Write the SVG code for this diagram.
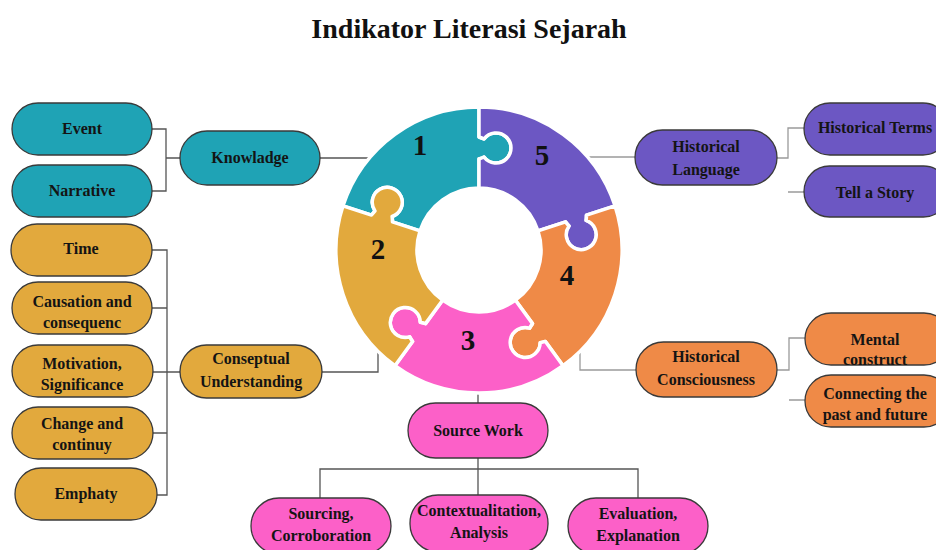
<svg xmlns="http://www.w3.org/2000/svg" xmlns:xlink="http://www.w3.org/1999/xlink" width="936" height="550" viewBox="0 0 936 550">
<style>
.t{font-family:"Liberation Serif","Times New Roman",serif;font-weight:bold;font-size:16px;fill:#141414;text-anchor:middle}
.title{font-family:"Liberation Serif","Times New Roman",serif;font-weight:bold;font-size:28px;fill:#111;text-anchor:middle}
.num{font-family:"Liberation Serif","Times New Roman",serif;font-weight:bold;font-size:29px;fill:#111;text-anchor:middle}
.n{stroke:#3a3a3a;stroke-width:1.3}
.teal{fill:#1FA3B5}.gold{fill:#E2A93D}.purple{fill:#6C57C3}.orange{fill:#EF8A47}.pink{fill:#FC60C8}
.cd{fill:none;stroke:#555;stroke-width:1.3}
.cl{fill:none;stroke:#9a9a9a;stroke-width:1.3}
.piece{stroke:#fff;stroke-width:3.5;stroke-linejoin:round}
</style>
<defs>
<path id="piece" d="M -136.00 -44.19 A 143 143 0 0 1 0 -143 L 0 -113 Q 3 -112 5 -111 A 15 15 0 1 1 5 -93 Q 3 -92 0 -91 L 0 -62 A 62 62 0 0 0 -58.97 -19.16 L -86.55 -28.12 Q -86.57 -31.28 -86.90 -33.49 A 15 15 0 1 0 -104.02 -39.06 Q -105.59 -37.46 -107.47 -34.92 Z"/>
</defs>
<rect width="936" height="550" fill="#fff"/>
<text class="title" x="469" y="38">Indikator Literasi Sejarah</text>

<g id="connectors">
<path class="cd" d="M152 129 H166 V191 H152 M166 158 H180 M320 158 H380"/>
<path class="cd" d="M152 250 H167 V495 H157 M152 308 H167 M152 372 H180 M152 433 H167 M322 372 H378 V340"/>
<path class="cl" d="M580 157 H635 M777 158 H788 V128 H805 M788 192 H805"/>
<path class="cl" d="M580 330 V370 H636 M777 370 H789 V338 H805 M789 400 H805"/>
<path class="cd" d="M478 385 V403 M478 458 V469 M320 500 V469 H638 V500 M478 469 V497"/>
</g>

<g id="ring">
<g id="piece1"><use xlink:href="#piece" class="piece teal" transform="translate(479,250)"/><text class="num" x="420" y="155">1</text></g>
<g id="piece5"><use xlink:href="#piece" class="piece purple" transform="translate(479,250) rotate(72)"/><text class="num" x="542" y="165">5</text></g>
<g id="piece4"><use xlink:href="#piece" class="piece orange" transform="translate(479,250) rotate(144)"/><text class="num" x="567" y="285">4</text></g>
<g id="piece3"><use xlink:href="#piece" class="piece pink" transform="translate(479,250) rotate(216)"/><text class="num" x="468" y="350">3</text></g>
<g id="piece2"><use xlink:href="#piece" class="piece gold" transform="translate(479,250) rotate(288)"/><text class="num" x="378" y="259">2</text></g>
</g>

<g id="event"><rect class="n teal" x="12" y="103" width="140" height="52" rx="26"/><text class="t" x="82" y="134">Event</text></g>
<g id="narrative"><rect class="n teal" x="12" y="165" width="140" height="52" rx="26"/><text class="t" x="82" y="196">Narrative</text></g>
<g id="knowladge"><rect class="n teal" x="180" y="131" width="140" height="54" rx="27"/><text class="t" x="250" y="163">Knowladge</text></g>

<g id="time"><rect class="n gold" x="11" y="224" width="141" height="52" rx="26"/><text class="t" x="81" y="254">Time</text></g>
<g id="causation"><rect class="n gold" x="12" y="282" width="140" height="52" rx="26"/><text class="t" x="82" y="307">Causation and</text><text class="t" x="82" y="328">consequenc</text></g>
<g id="motivation"><rect class="n gold" x="12" y="345" width="141" height="52" rx="26"/><text class="t" x="82" y="369">Motivation,</text><text class="t" x="82" y="390">Significance</text></g>
<g id="change"><rect class="n gold" x="12" y="407" width="141" height="52" rx="26"/><text class="t" x="82" y="429">Change and</text><text class="t" x="82" y="450">continuy</text></g>
<g id="emphaty"><rect class="n gold" x="15" y="468" width="142" height="52" rx="26"/><text class="t" x="86" y="499">Emphaty</text></g>
<g id="conseptual"><rect class="n gold" x="180" y="345" width="142" height="53" rx="26.5"/><text class="t" x="251" y="364">Conseptual</text><text class="t" x="251" y="387">Understanding</text></g>

<g id="historical-language"><rect class="n purple" x="635" y="130" width="142" height="55" rx="27.5"/><text class="t" x="706" y="152">Historical</text><text class="t" x="706" y="175">Language</text></g>
<g id="historical-terms"><rect class="n purple" x="804" y="103" width="145" height="52" rx="26"/><text class="t" x="875" y="133">Historical Terms</text></g>
<g id="tell-a-story"><rect class="n purple" x="804" y="166" width="145" height="51" rx="25.5"/><text class="t" x="875" y="198">Tell a Story</text></g>

<g id="historical-consciousness"><rect class="n orange" x="636" y="342" width="141" height="55" rx="27.5"/><text class="t" x="706" y="362">Historical</text><text class="t" x="706" y="385">Consciousness</text></g>
<g id="mental-construct"><rect class="n orange" x="805" y="313" width="145" height="52" rx="26"/><text class="t" x="875" y="345">Mental</text><text class="t" x="875" y="365">construct</text></g>
<g id="connecting"><rect class="n orange" x="805" y="375" width="145" height="52" rx="26"/><text class="t" x="875" y="399">Connecting the</text><text class="t" x="875" y="420">past and future</text></g>

<g id="source-work"><rect class="n pink" x="408" y="403" width="140" height="55" rx="27.5"/><text class="t" x="478" y="436">Source Work</text></g>
<g id="sourcing"><rect class="n pink" x="251" y="498" width="140" height="56" rx="28"/><text class="t" x="321" y="519">Sourcing,</text><text class="t" x="321" y="541">Corroboration</text></g>
<g id="contextualitation"><rect class="n pink" x="410" y="495" width="138" height="57" rx="28"/><text class="t" x="479" y="516">Contextualitation,</text><text class="t" x="479" y="538">Analysis</text></g>
<g id="evaluation"><rect class="n pink" x="568" y="498" width="140" height="56" rx="28"/><text class="t" x="638" y="519">Evaluation,</text><text class="t" x="638" y="541">Explanation</text></g>
</svg>
